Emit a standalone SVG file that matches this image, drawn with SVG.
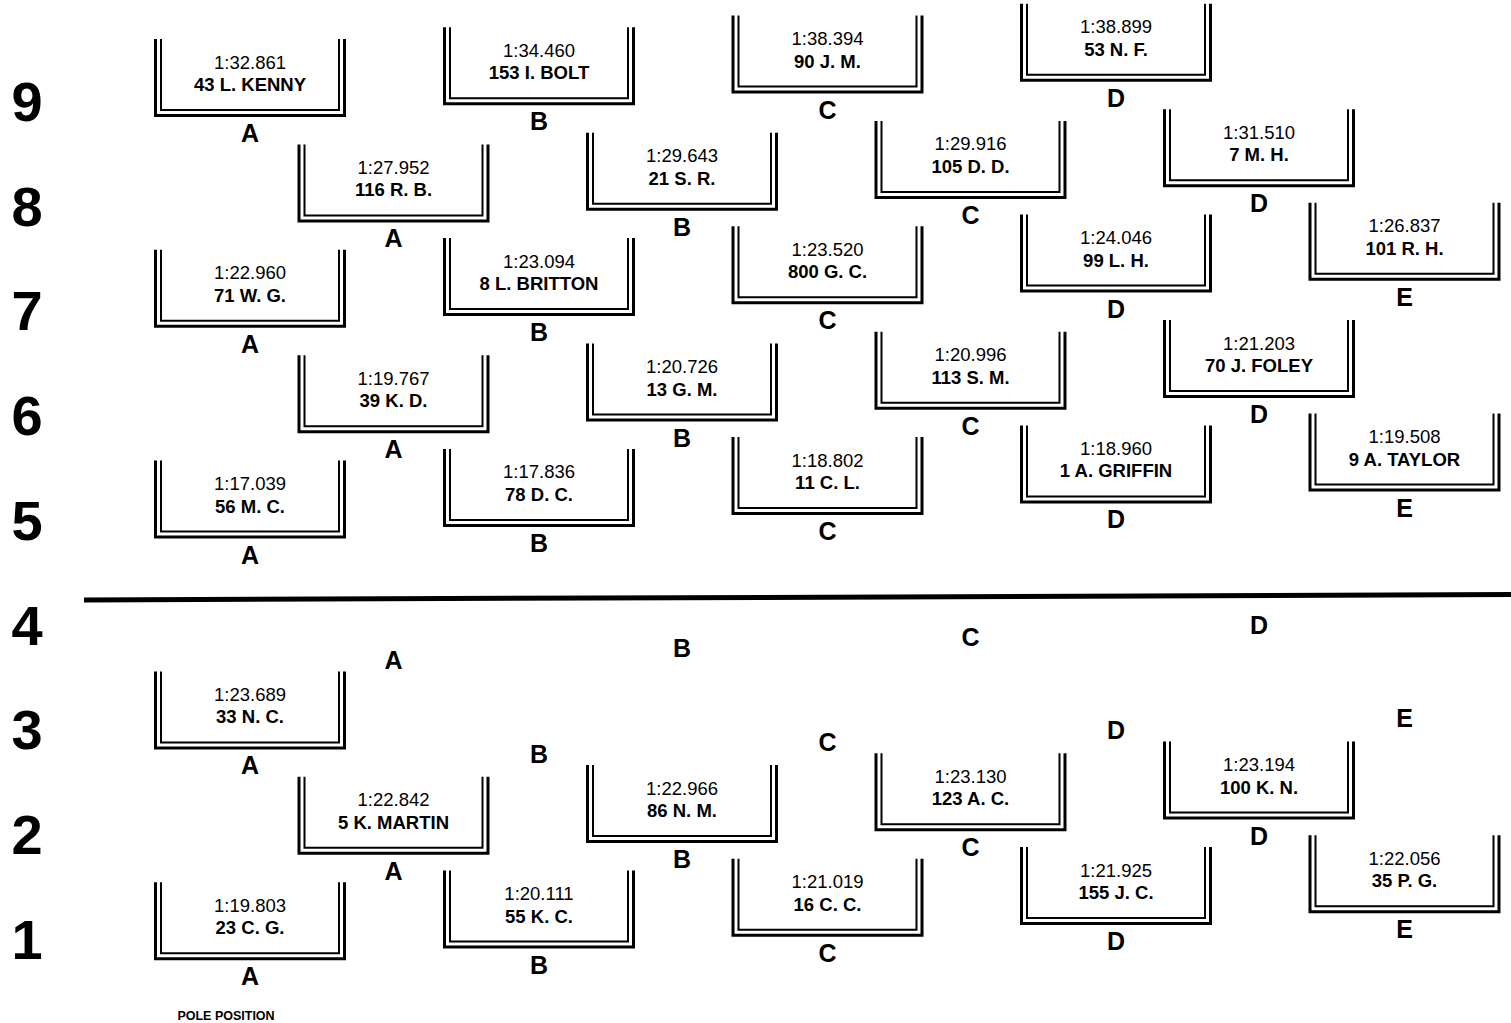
<svg xmlns="http://www.w3.org/2000/svg" xmlns:xlink="http://www.w3.org/1999/xlink" width="1511" height="1023" viewBox="0 0 1511 1023">
<style>
text{font-family:"Liberation Sans",Arial,sans-serif;fill:#000;text-anchor:middle}
.t{font-size:18.5px}
.n{font-size:18.5px;font-weight:bold}
.l{font-size:25px;font-weight:bold}
.r{font-size:56px;font-weight:bold}
.p{font-size:12.5px;font-weight:bold}
.o{fill:none;stroke:#000;stroke-width:3}
.i{fill:none;stroke:#000;stroke-width:2}
</style>
<defs>
<g id="br">
<path class="o" d="M-94.5 0V76.5H94.5V0"/>
<path class="i" d="M-89 0V71H89V0"/>
</g>
</defs>
<rect width="1511" height="1023" fill="#fff"/>
<g id="rows">
<text class="r" x="27" y="121">9</text>
<text class="r" x="27" y="225.7">8</text>
<text class="r" x="27" y="330.4">7</text>
<text class="r" x="27" y="435.1">6</text>
<text class="r" x="27" y="539.8">5</text>
<text class="r" x="27" y="644.5">4</text>
<text class="r" x="27" y="749.2">3</text>
<text class="r" x="27" y="853.9">2</text>
<text class="r" x="27" y="958.6">1</text>
</g>
<g id="connectors">
<line x1="84" y1="600" x2="1511" y2="594.5" stroke="#000" stroke-width="5"/>
</g>
<!-- Row 9 -->
<g id="r9A" transform="translate(250,39)"><use xlink:href="#br"/><text class="t" y="29.5">1:32.861</text><text class="n" y="52">43 L. KENNY</text><text class="l" y="103">A</text></g>
<g id="r9B" transform="translate(539,27.3)"><use xlink:href="#br"/><text class="t" y="29.5">1:34.460</text><text class="n" y="52">153 I. BOLT</text><text class="l" y="103">B</text></g>
<g id="r9C" transform="translate(827.5,15.5)"><use xlink:href="#br"/><text class="t" y="29.5">1:38.394</text><text class="n" y="52">90 J. M.</text><text class="l" y="103">C</text></g>
<g id="r9D" transform="translate(1116,3.8)"><use xlink:href="#br"/><text class="t" y="29.5">1:38.899</text><text class="n" y="52">53 N. F.</text><text class="l" y="103">D</text></g>
<!-- Row 8 -->
<g id="r8A" transform="translate(393.5,144.4)"><use xlink:href="#br"/><text class="t" y="29.5">1:27.952</text><text class="n" y="52">116 R. B.</text><text class="l" y="103">A</text></g>
<g id="r8B" transform="translate(682,132.7)"><use xlink:href="#br"/><text class="t" y="29.5">1:29.643</text><text class="n" y="52">21 S. R.</text><text class="l" y="103">B</text></g>
<g id="r8C" transform="translate(970.5,120.9)"><use xlink:href="#br"/><text class="t" y="29.5">1:29.916</text><text class="n" y="52">105 D. D.</text><text class="l" y="103">C</text></g>
<g id="r8D" transform="translate(1259,109.2)"><use xlink:href="#br"/><text class="t" y="29.5">1:31.510</text><text class="n" y="52">7 M. H.</text><text class="l" y="103">D</text></g>
<!-- Row 7 -->
<g id="r7A" transform="translate(250,249.8)"><use xlink:href="#br"/><text class="t" y="29.5">1:22.960</text><text class="n" y="52">71 W. G.</text><text class="l" y="103">A</text></g>
<g id="r7B" transform="translate(539,238.1)"><use xlink:href="#br"/><text class="t" y="29.5">1:23.094</text><text class="n" y="52">8 L. BRITTON</text><text class="l" y="103">B</text></g>
<g id="r7C" transform="translate(827.5,226.3)"><use xlink:href="#br"/><text class="t" y="29.5">1:23.520</text><text class="n" y="52">800 G. C.</text><text class="l" y="103">C</text></g>
<g id="r7D" transform="translate(1116,214.6)"><use xlink:href="#br"/><text class="t" y="29.5">1:24.046</text><text class="n" y="52">99 L. H.</text><text class="l" y="103">D</text></g>
<g id="r7E" transform="translate(1404.5,202.8)"><use xlink:href="#br"/><text class="t" y="29.5">1:26.837</text><text class="n" y="52">101 R. H.</text><text class="l" y="103">E</text></g>
<!-- Row 6 -->
<g id="r6A" transform="translate(393.5,355.2)"><use xlink:href="#br"/><text class="t" y="29.5">1:19.767</text><text class="n" y="52">39 K. D.</text><text class="l" y="103">A</text></g>
<g id="r6B" transform="translate(682,343.5)"><use xlink:href="#br"/><text class="t" y="29.5">1:20.726</text><text class="n" y="52">13 G. M.</text><text class="l" y="103">B</text></g>
<g id="r6C" transform="translate(970.5,331.7)"><use xlink:href="#br"/><text class="t" y="29.5">1:20.996</text><text class="n" y="52">113 S. M.</text><text class="l" y="103">C</text></g>
<g id="r6D" transform="translate(1259,320)"><use xlink:href="#br"/><text class="t" y="29.5">1:21.203</text><text class="n" y="52">70 J. FOLEY</text><text class="l" y="103">D</text></g>
<!-- Row 5 -->
<g id="r5A" transform="translate(250,460.6)"><use xlink:href="#br"/><text class="t" y="29.5">1:17.039</text><text class="n" y="52">56 M. C.</text><text class="l" y="103">A</text></g>
<g id="r5B" transform="translate(539,448.9)"><use xlink:href="#br"/><text class="t" y="29.5">1:17.836</text><text class="n" y="52">78 D. C.</text><text class="l" y="103">B</text></g>
<g id="r5C" transform="translate(827.5,437.1)"><use xlink:href="#br"/><text class="t" y="29.5">1:18.802</text><text class="n" y="52">11 C. L.</text><text class="l" y="103">C</text></g>
<g id="r5D" transform="translate(1116,425.4)"><use xlink:href="#br"/><text class="t" y="29.5">1:18.960</text><text class="n" y="52">1 A. GRIFFIN</text><text class="l" y="103">D</text></g>
<g id="r5E" transform="translate(1404.5,413.6)"><use xlink:href="#br"/><text class="t" y="29.5">1:19.508</text><text class="n" y="52">9 A. TAYLOR</text><text class="l" y="103">E</text></g>
<!-- Row 4 -->
<g id="r4A" transform="translate(393.5,566)"><text class="l" y="103">A</text></g>
<g id="r4B" transform="translate(682,554.3)"><text class="l" y="103">B</text></g>
<g id="r4C" transform="translate(970.5,542.5)"><text class="l" y="103">C</text></g>
<g id="r4D" transform="translate(1259,530.8)"><text class="l" y="103">D</text></g>
<!-- Row 3 -->
<g id="r3A" transform="translate(250,671.4)"><use xlink:href="#br"/><text class="t" y="29.5">1:23.689</text><text class="n" y="52">33 N. C.</text><text class="l" y="103">A</text></g>
<g id="r3B" transform="translate(539,659.7)"><text class="l" y="103">B</text></g>
<g id="r3C" transform="translate(827.5,647.9)"><text class="l" y="103">C</text></g>
<g id="r3D" transform="translate(1116,636.2)"><text class="l" y="103">D</text></g>
<g id="r3E" transform="translate(1404.5,624.4)"><text class="l" y="103">E</text></g>
<!-- Row 2 -->
<g id="r2A" transform="translate(393.5,776.8)"><use xlink:href="#br"/><text class="t" y="29.5">1:22.842</text><text class="n" y="52">5 K. MARTIN</text><text class="l" y="103">A</text></g>
<g id="r2B" transform="translate(682,765.1)"><use xlink:href="#br"/><text class="t" y="29.5">1:22.966</text><text class="n" y="52">86 N. M.</text><text class="l" y="103">B</text></g>
<g id="r2C" transform="translate(970.5,753.3)"><use xlink:href="#br"/><text class="t" y="29.5">1:23.130</text><text class="n" y="52">123 A. C.</text><text class="l" y="103">C</text></g>
<g id="r2D" transform="translate(1259,741.6)"><use xlink:href="#br"/><text class="t" y="29.5">1:23.194</text><text class="n" y="52">100 K. N.</text><text class="l" y="103">D</text></g>
<!-- Row 1 -->
<g id="r1A" transform="translate(250,882.2)"><use xlink:href="#br"/><text class="t" y="29.5">1:19.803</text><text class="n" y="52">23 C. G.</text><text class="l" y="103">A</text></g>
<g id="r1B" transform="translate(539,870.5)"><use xlink:href="#br"/><text class="t" y="29.5">1:20.111</text><text class="n" y="52">55 K. C.</text><text class="l" y="103">B</text></g>
<g id="r1C" transform="translate(827.5,858.7)"><use xlink:href="#br"/><text class="t" y="29.5">1:21.019</text><text class="n" y="52">16 C. C.</text><text class="l" y="103">C</text></g>
<g id="r1D" transform="translate(1116,847)"><use xlink:href="#br"/><text class="t" y="29.5">1:21.925</text><text class="n" y="52">155 J. C.</text><text class="l" y="103">D</text></g>
<g id="r1E" transform="translate(1404.5,835.2)"><use xlink:href="#br"/><text class="t" y="29.5">1:22.056</text><text class="n" y="52">35 P. G.</text><text class="l" y="103">E</text></g>
<g id="pole"><text class="p" x="226" y="1020">POLE POSITION</text></g>
</svg>
